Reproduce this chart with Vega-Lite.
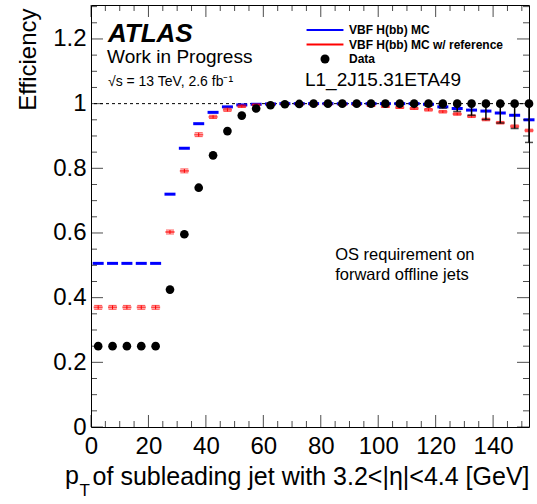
{
  "$schema": "https://vega.github.io/schema/vega-lite/v6.json",
  "width": 438,
  "height": 422,
  "autosize": {"type": "none"},
  "padding": {"left": 91, "top": 5, "right": 8, "bottom": 77},
  "background": "white",
  "config": {
    "view": {"stroke": "black", "strokeWidth": 1},
    "font": "Liberation Sans",
    "axis": {"grid": false, "domain": false}
  },
  "data": {"values": [
    {"series": "Data", "pt": 2.5, "eff": 0.25, "lo": 0.25, "hi": 0.25},
    {"series": "Data", "pt": 7.5, "eff": 0.25, "lo": 0.25, "hi": 0.25},
    {"series": "Data", "pt": 12.5, "eff": 0.25, "lo": 0.25, "hi": 0.25},
    {"series": "Data", "pt": 17.5, "eff": 0.25, "lo": 0.25, "hi": 0.25},
    {"series": "Data", "pt": 22.5, "eff": 0.25, "lo": 0.25, "hi": 0.25},
    {"series": "Data", "pt": 27.5, "eff": 0.425, "lo": 0.425, "hi": 0.425},
    {"series": "Data", "pt": 32.5, "eff": 0.596, "lo": 0.596, "hi": 0.596},
    {"series": "Data", "pt": 37.5, "eff": 0.74, "lo": 0.74, "hi": 0.74},
    {"series": "Data", "pt": 42.5, "eff": 0.84, "lo": 0.84, "hi": 0.84},
    {"series": "Data", "pt": 47.5, "eff": 0.915, "lo": 0.915, "hi": 0.915},
    {"series": "Data", "pt": 52.5, "eff": 0.963, "lo": 0.963, "hi": 0.963},
    {"series": "Data", "pt": 57.5, "eff": 0.985, "lo": 0.985, "hi": 0.985},
    {"series": "Data", "pt": 62.5, "eff": 0.995, "lo": 0.995, "hi": 0.995},
    {"series": "Data", "pt": 67.5, "eff": 0.998, "lo": 0.998, "hi": 0.998},
    {"series": "Data", "pt": 72.5, "eff": 0.999, "lo": 0.999, "hi": 0.999},
    {"series": "Data", "pt": 77.5, "eff": 1, "lo": 1, "hi": 1},
    {"series": "Data", "pt": 82.5, "eff": 1, "lo": 1, "hi": 1},
    {"series": "Data", "pt": 87.5, "eff": 1, "lo": 1, "hi": 1},
    {"series": "Data", "pt": 92.5, "eff": 1, "lo": 1, "hi": 1},
    {"series": "Data", "pt": 97.5, "eff": 1, "lo": 1, "hi": 1},
    {"series": "Data", "pt": 102.5, "eff": 1, "lo": 1, "hi": 1},
    {"series": "Data", "pt": 107.5, "eff": 1, "lo": 1, "hi": 1},
    {"series": "Data", "pt": 112.5, "eff": 1, "lo": 0.997, "hi": 1},
    {"series": "Data", "pt": 117.5, "eff": 1, "lo": 0.993, "hi": 1},
    {"series": "Data", "pt": 122.5, "eff": 1, "lo": 0.986, "hi": 1},
    {"series": "Data", "pt": 127.5, "eff": 1, "lo": 0.976, "hi": 1},
    {"series": "Data", "pt": 132.5, "eff": 1, "lo": 0.964, "hi": 1},
    {"series": "Data", "pt": 137.5, "eff": 1, "lo": 0.951, "hi": 1},
    {"series": "Data", "pt": 142.5, "eff": 1, "lo": 0.94, "hi": 1},
    {"series": "Data", "pt": 147.5, "eff": 1, "lo": 0.923, "hi": 1},
    {"series": "Data", "pt": 152.5, "eff": 1, "lo": 0.88, "hi": 1},

    {"series": "VBF H(bb) MC", "pt": 2.5, "eff": 0.506},
    {"series": "VBF H(bb) MC", "pt": 7.5, "eff": 0.506},
    {"series": "VBF H(bb) MC", "pt": 12.5, "eff": 0.506},
    {"series": "VBF H(bb) MC", "pt": 17.5, "eff": 0.506},
    {"series": "VBF H(bb) MC", "pt": 22.5, "eff": 0.506},
    {"series": "VBF H(bb) MC", "pt": 27.5, "eff": 0.72},
    {"series": "VBF H(bb) MC", "pt": 32.5, "eff": 0.862},
    {"series": "VBF H(bb) MC", "pt": 37.5, "eff": 0.938},
    {"series": "VBF H(bb) MC", "pt": 42.5, "eff": 0.973},
    {"series": "VBF H(bb) MC", "pt": 47.5, "eff": 0.99},
    {"series": "VBF H(bb) MC", "pt": 52.5, "eff": 0.996},
    {"series": "VBF H(bb) MC", "pt": 57.5, "eff": 0.998},
    {"series": "VBF H(bb) MC", "pt": 62.5, "eff": 0.999},
    {"series": "VBF H(bb) MC", "pt": 67.5, "eff": 1},
    {"series": "VBF H(bb) MC", "pt": 72.5, "eff": 1},
    {"series": "VBF H(bb) MC", "pt": 77.5, "eff": 1},
    {"series": "VBF H(bb) MC", "pt": 82.5, "eff": 1},
    {"series": "VBF H(bb) MC", "pt": 87.5, "eff": 1},
    {"series": "VBF H(bb) MC", "pt": 92.5, "eff": 1},
    {"series": "VBF H(bb) MC", "pt": 97.5, "eff": 1},
    {"series": "VBF H(bb) MC", "pt": 102.5, "eff": 1},
    {"series": "VBF H(bb) MC", "pt": 107.5, "eff": 1},
    {"series": "VBF H(bb) MC", "pt": 112.5, "eff": 1},
    {"series": "VBF H(bb) MC", "pt": 117.5, "eff": 0.998},
    {"series": "VBF H(bb) MC", "pt": 122.5, "eff": 0.99},
    {"series": "VBF H(bb) MC", "pt": 127.5, "eff": 0.985},
    {"series": "VBF H(bb) MC", "pt": 132.5, "eff": 0.98},
    {"series": "VBF H(bb) MC", "pt": 137.5, "eff": 0.977},
    {"series": "VBF H(bb) MC", "pt": 142.5, "eff": 0.971},
    {"series": "VBF H(bb) MC", "pt": 147.5, "eff": 0.964},
    {"series": "VBF H(bb) MC", "pt": 152.5, "eff": 0.95},

    {"series": "VBF H(bb) MC w/ reference", "pt": 2.5, "eff": 0.37, "lo": 0.364, "hi": 0.376},
    {"series": "VBF H(bb) MC w/ reference", "pt": 7.5, "eff": 0.37, "lo": 0.364, "hi": 0.376},
    {"series": "VBF H(bb) MC w/ reference", "pt": 12.5, "eff": 0.37, "lo": 0.364, "hi": 0.376},
    {"series": "VBF H(bb) MC w/ reference", "pt": 17.5, "eff": 0.37, "lo": 0.364, "hi": 0.376},
    {"series": "VBF H(bb) MC w/ reference", "pt": 22.5, "eff": 0.37, "lo": 0.364, "hi": 0.376},
    {"series": "VBF H(bb) MC w/ reference", "pt": 27.5, "eff": 0.603, "lo": 0.597, "hi": 0.609},
    {"series": "VBF H(bb) MC w/ reference", "pt": 32.5, "eff": 0.792, "lo": 0.786, "hi": 0.798},
    {"series": "VBF H(bb) MC w/ reference", "pt": 37.5, "eff": 0.904, "lo": 0.898, "hi": 0.91},
    {"series": "VBF H(bb) MC w/ reference", "pt": 42.5, "eff": 0.959, "lo": 0.954, "hi": 0.964},
    {"series": "VBF H(bb) MC w/ reference", "pt": 47.5, "eff": 0.981, "lo": 0.976, "hi": 0.986},
    {"series": "VBF H(bb) MC w/ reference", "pt": 52.5, "eff": 0.992, "lo": 0.988, "hi": 0.996},
    {"series": "VBF H(bb) MC w/ reference", "pt": 57.5, "eff": 0.996, "lo": 0.993, "hi": 0.999},
    {"series": "VBF H(bb) MC w/ reference", "pt": 62.5, "eff": 0.998, "lo": 0.996, "hi": 1},
    {"series": "VBF H(bb) MC w/ reference", "pt": 67.5, "eff": 0.998, "lo": 0.996, "hi": 1},
    {"series": "VBF H(bb) MC w/ reference", "pt": 72.5, "eff": 0.998, "lo": 0.996, "hi": 1},
    {"series": "VBF H(bb) MC w/ reference", "pt": 77.5, "eff": 0.998, "lo": 0.996, "hi": 1},
    {"series": "VBF H(bb) MC w/ reference", "pt": 82.5, "eff": 0.998, "lo": 0.996, "hi": 1},
    {"series": "VBF H(bb) MC w/ reference", "pt": 87.5, "eff": 0.997, "lo": 0.995, "hi": 0.999},
    {"series": "VBF H(bb) MC w/ reference", "pt": 92.5, "eff": 0.996, "lo": 0.994, "hi": 0.998},
    {"series": "VBF H(bb) MC w/ reference", "pt": 97.5, "eff": 0.994, "lo": 0.991, "hi": 0.997},
    {"series": "VBF H(bb) MC w/ reference", "pt": 102.5, "eff": 0.991, "lo": 0.988, "hi": 0.994},
    {"series": "VBF H(bb) MC w/ reference", "pt": 107.5, "eff": 0.988, "lo": 0.985, "hi": 0.991},
    {"series": "VBF H(bb) MC w/ reference", "pt": 112.5, "eff": 0.985, "lo": 0.982, "hi": 0.988},
    {"series": "VBF H(bb) MC w/ reference", "pt": 117.5, "eff": 0.981, "lo": 0.977, "hi": 0.985},
    {"series": "VBF H(bb) MC w/ reference", "pt": 122.5, "eff": 0.975, "lo": 0.971, "hi": 0.979},
    {"series": "VBF H(bb) MC w/ reference", "pt": 127.5, "eff": 0.968, "lo": 0.964, "hi": 0.972},
    {"series": "VBF H(bb) MC w/ reference", "pt": 132.5, "eff": 0.961, "lo": 0.957, "hi": 0.965},
    {"series": "VBF H(bb) MC w/ reference", "pt": 137.5, "eff": 0.951, "lo": 0.947, "hi": 0.955},
    {"series": "VBF H(bb) MC w/ reference", "pt": 142.5, "eff": 0.941, "lo": 0.937, "hi": 0.945},
    {"series": "VBF H(bb) MC w/ reference", "pt": 147.5, "eff": 0.93, "lo": 0.926, "hi": 0.934},
    {"series": "VBF H(bb) MC w/ reference", "pt": 152.5, "eff": 0.917, "lo": 0.913, "hi": 0.921}
  ]},
  "resolve": {"axis": {"x": "independent", "y": "independent"}},
  "layer": [
    {
      "data": {"values": [{}]},
      "mark": {"type": "rule", "strokeDash": [3, 3], "color": "black", "strokeWidth": 1},
      "encoding": {
        "y": {"datum": 1, "type": "quantitative", "scale": {"domain": [0, 1.305], "nice": false, "zero": false}, "axis": null}
      }
    },
    {
      "transform": [{"filter": "datum.series === 'VBF H(bb) MC'"}],
      "mark": {"type": "tick", "orient": "horizontal", "color": "#0000ff", "size": 11, "thickness": 3, "opacity": 1},
      "encoding": {
        "x": {"field": "pt", "type": "quantitative", "scale": {"domain": [0, 152.5], "nice": false, "zero": false},
          "axis": {"orient": "bottom", "values": [0, 20, 40, 60, 80, 100, 120, 140], "ticks": false, "domain": false, "grid": false,
            "labelFont": "Liberation Sans", "labelFontSize": 24, "labelColor": "black", "labelPadding": 7, "labelFlush": false, "labelOverlap": false, "labelBaseline": "top",
            "title": "of subleading jet with 3.2<|η|<4.4 [GeV]", "titleFont": "Liberation Sans", "titleFontSize": 25, "titleFontWeight": "normal", "titleColor": "black",
            "titleAlign": "right", "titleAnchor": "end", "titleBaseline": "alphabetic", "titleX": 438, "titleY": 57}},
        "y": {"field": "eff", "type": "quantitative", "scale": {"domain": [0, 1.305], "nice": false, "zero": false},
          "axis": {"orient": "left", "values": [0, 0.2, 0.4, 0.6, 0.8, 1, 1.2], "format": "~g", "ticks": false, "domain": false, "grid": false,
            "labelFont": "Liberation Sans", "labelFontSize": 24, "labelColor": "black", "labelPadding": 5, "labelFlush": false, "labelOverlap": false,
            "title": "Efficiency", "titleFont": "Liberation Sans", "titleFontSize": 24, "titleFontWeight": "normal", "titleColor": "black",
            "titleAngle": -90, "titleAlign": "right", "titleAnchor": "end", "titleBaseline": "alphabetic", "titleX": -56, "titleY": 3}}
      }
    },
    {
      "data": {"values": [{"v": 0}, {"v": 20}, {"v": 40}, {"v": 60}, {"v": 80}, {"v": 100}, {"v": 120}, {"v": 140}]},
      "mark": {"type": "tick", "orient": "vertical", "color": "black", "size": 12, "thickness": 1, "yOffset": -6},
      "encoding": {
        "x": {"field": "v", "type": "quantitative", "axis": null},
        "y": {"datum": 0, "type": "quantitative", "axis": null}
      }
    },
    {
      "data": {"values": [{"v": 5}, {"v": 10}, {"v": 15}, {"v": 25}, {"v": 30}, {"v": 35}, {"v": 45}, {"v": 50}, {"v": 55}, {"v": 65}, {"v": 70}, {"v": 75}, {"v": 85}, {"v": 90}, {"v": 95}, {"v": 105}, {"v": 110}, {"v": 115}, {"v": 125}, {"v": 130}, {"v": 135}, {"v": 145}, {"v": 150}]},
      "mark": {"type": "tick", "orient": "vertical", "color": "black", "size": 6, "thickness": 1, "yOffset": -3},
      "encoding": {
        "x": {"field": "v", "type": "quantitative", "axis": null},
        "y": {"datum": 0, "type": "quantitative", "axis": null}
      }
    },
    {
      "data": {"values": [{"v": 0}, {"v": 20}, {"v": 40}, {"v": 60}, {"v": 80}, {"v": 100}, {"v": 120}, {"v": 140}]},
      "mark": {"type": "tick", "orient": "vertical", "color": "black", "size": 12, "thickness": 1, "yOffset": 6},
      "encoding": {
        "x": {"field": "v", "type": "quantitative", "axis": null},
        "y": {"datum": 1.305, "type": "quantitative", "axis": null}
      }
    },
    {
      "data": {"values": [{"v": 5}, {"v": 10}, {"v": 15}, {"v": 25}, {"v": 30}, {"v": 35}, {"v": 45}, {"v": 50}, {"v": 55}, {"v": 65}, {"v": 70}, {"v": 75}, {"v": 85}, {"v": 90}, {"v": 95}, {"v": 105}, {"v": 110}, {"v": 115}, {"v": 125}, {"v": 130}, {"v": 135}, {"v": 145}, {"v": 150}]},
      "mark": {"type": "tick", "orient": "vertical", "color": "black", "size": 6, "thickness": 1, "yOffset": 3},
      "encoding": {
        "x": {"field": "v", "type": "quantitative", "axis": null},
        "y": {"datum": 1.305, "type": "quantitative", "axis": null}
      }
    },
    {
      "data": {"values": [{"v": 0}, {"v": 0.2}, {"v": 0.4}, {"v": 0.6}, {"v": 0.8}, {"v": 1}, {"v": 1.2}]},
      "mark": {"type": "tick", "orient": "horizontal", "color": "black", "size": 12, "thickness": 1, "xOffset": 6},
      "encoding": {
        "y": {"field": "v", "type": "quantitative", "axis": null},
        "x": {"datum": 0, "type": "quantitative", "axis": null}
      }
    },
    {
      "data": {"values": [{"v": 0.05}, {"v": 0.1}, {"v": 0.15}, {"v": 0.25}, {"v": 0.3}, {"v": 0.35}, {"v": 0.45}, {"v": 0.5}, {"v": 0.55}, {"v": 0.65}, {"v": 0.7}, {"v": 0.75}, {"v": 0.85}, {"v": 0.9}, {"v": 0.95}, {"v": 1.05}, {"v": 1.1}, {"v": 1.15}, {"v": 1.25}, {"v": 1.3}]},
      "mark": {"type": "tick", "orient": "horizontal", "color": "black", "size": 6, "thickness": 1, "xOffset": 3},
      "encoding": {
        "y": {"field": "v", "type": "quantitative", "axis": null},
        "x": {"datum": 0, "type": "quantitative", "axis": null}
      }
    },
    {
      "data": {"values": [{"v": 0}, {"v": 0.2}, {"v": 0.4}, {"v": 0.6}, {"v": 0.8}, {"v": 1}, {"v": 1.2}]},
      "mark": {"type": "tick", "orient": "horizontal", "color": "black", "size": 12, "thickness": 1, "xOffset": -6},
      "encoding": {
        "y": {"field": "v", "type": "quantitative", "axis": null},
        "x": {"datum": 152.5, "type": "quantitative", "axis": null}
      }
    },
    {
      "data": {"values": [{"v": 0.05}, {"v": 0.1}, {"v": 0.15}, {"v": 0.25}, {"v": 0.3}, {"v": 0.35}, {"v": 0.45}, {"v": 0.5}, {"v": 0.55}, {"v": 0.65}, {"v": 0.7}, {"v": 0.75}, {"v": 0.85}, {"v": 0.9}, {"v": 0.95}, {"v": 1.05}, {"v": 1.1}, {"v": 1.15}, {"v": 1.25}, {"v": 1.3}]},
      "mark": {"type": "tick", "orient": "horizontal", "color": "black", "size": 6, "thickness": 1, "xOffset": -3},
      "encoding": {
        "y": {"field": "v", "type": "quantitative", "axis": null},
        "x": {"datum": 152.5, "type": "quantitative", "axis": null}
      }
    },
    {
      "transform": [{"filter": "datum.series === 'VBF H(bb) MC w/ reference'"}],
      "mark": {"type": "rule", "color": "#ff0000", "strokeWidth": 1},
      "encoding": {
        "x": {"field": "pt", "type": "quantitative", "axis": null},
        "y": {"field": "lo", "type": "quantitative", "axis": null},
        "y2": {"field": "hi"}
      }
    },
    {
      "transform": [{"filter": "datum.series === 'VBF H(bb) MC w/ reference'"}],
      "mark": {"type": "tick", "orient": "horizontal", "color": "#ff0000", "size": 8, "thickness": 1},
      "encoding": {
        "x": {"field": "pt", "type": "quantitative", "axis": null},
        "y": {"field": "lo", "type": "quantitative", "axis": null}
      }
    },
    {
      "transform": [{"filter": "datum.series === 'VBF H(bb) MC w/ reference'"}],
      "mark": {"type": "tick", "orient": "horizontal", "color": "#ff0000", "size": 8, "thickness": 1},
      "encoding": {
        "x": {"field": "pt", "type": "quantitative", "axis": null},
        "y": {"field": "hi", "type": "quantitative", "axis": null}
      }
    },
    {
      "transform": [{"filter": "datum.series === 'VBF H(bb) MC w/ reference'"}],
      "mark": {"type": "tick", "orient": "horizontal", "color": "#ff0000", "size": 9, "thickness": 2},
      "encoding": {
        "x": {"field": "pt", "type": "quantitative", "axis": null},
        "y": {"field": "eff", "type": "quantitative", "axis": null}
      }
    },
    {
      "transform": [{"filter": "datum.series === 'Data' && datum.lo < datum.eff"}],
      "mark": {"type": "rule", "color": "black", "strokeWidth": 1.5},
      "encoding": {
        "x": {"field": "pt", "type": "quantitative", "axis": null},
        "y": {"field": "lo", "type": "quantitative", "axis": null},
        "y2": {"field": "hi"}
      }
    },
    {
      "transform": [{"filter": "datum.series === 'Data' && datum.lo < datum.eff"}],
      "mark": {"type": "tick", "orient": "horizontal", "color": "black", "size": 8, "thickness": 1.5},
      "encoding": {
        "x": {"field": "pt", "type": "quantitative", "axis": null},
        "y": {"field": "lo", "type": "quantitative", "axis": null}
      }
    },
    {
      "transform": [{"filter": "datum.series === 'Data'"}],
      "mark": {"type": "point", "filled": true, "size": 75, "opacity": 1},
      "encoding": {
        "x": {"field": "pt", "type": "quantitative", "axis": null},
        "y": {"field": "eff", "type": "quantitative", "axis": null},
        "color": {"field": "series", "type": "nominal",
          "scale": {"domain": ["VBF H(bb) MC", "VBF H(bb) MC w/ reference", "Data"], "range": ["#0000ff", "#ff0000", "#000000"]},
          "legend": {"title": null, "orient": "none", "legendX": 228, "legendY": 19, "padding": 0, "symbolSize": 81,
            "labelFont": "Liberation Sans", "labelFontSize": 12, "labelFontWeight": "bold", "labelColor": "black", "labelOffset": 18, "rowPadding": 2.5}},
        "shape": {"field": "series", "type": "nominal",
          "scale": {"domain": ["VBF H(bb) MC", "VBF H(bb) MC w/ reference", "Data"], "range": ["M-4.1,-0.22H4.1V0.22H-4.1Z", "M-4.1,-0.22H4.1V0.22H-4.1Z", "circle"]},
          "legend": {"title": null, "orient": "none", "legendX": 228, "legendY": 19, "padding": 0, "symbolSize": 81,
            "labelFont": "Liberation Sans", "labelFontSize": 12, "labelFontWeight": "bold", "labelColor": "black", "labelOffset": 18, "rowPadding": 2.5}}
      }
    },
    {
      "data": {"values": [{}]},
      "mark": {"type": "text", "text": "ATLAS", "font": "Liberation Sans", "fontSize": 26, "fontWeight": "bold", "fontStyle": "italic", "align": "left", "baseline": "alphabetic", "color": "black"},
      "encoding": {"x": {"datum": 5.9, "type": "quantitative", "axis": null}, "y": {"datum": 1.191, "type": "quantitative", "axis": null}}
    },
    {
      "data": {"values": [{}]},
      "mark": {"type": "text", "text": "Work in Progress", "font": "Liberation Sans", "fontSize": 19, "align": "left", "baseline": "alphabetic", "color": "black"},
      "encoding": {"x": {"datum": 5.6, "type": "quantitative", "axis": null}, "y": {"datum": 1.125, "type": "quantitative", "axis": null}}
    },
    {
      "data": {"values": [{}]},
      "mark": {"type": "text", "text": "√s = 13 TeV, 2.6 fb⁻¹", "font": "Liberation Sans", "fontSize": 14, "align": "left", "baseline": "alphabetic", "color": "black"},
      "encoding": {"x": {"datum": 5.9, "type": "quantitative", "axis": null}, "y": {"datum": 1.054, "type": "quantitative", "axis": null}}
    },
    {
      "data": {"values": [{}]},
      "mark": {"type": "text", "text": "L1_2J15.31ETA49", "font": "Liberation Sans", "fontSize": 19, "align": "left", "baseline": "alphabetic", "color": "black"},
      "encoding": {"x": {"datum": 74.5, "type": "quantitative", "axis": null}, "y": {"datum": 1.054, "type": "quantitative", "axis": null}}
    },
    {
      "data": {"values": [{}]},
      "mark": {"type": "text", "text": "OS requirement on", "font": "Liberation Sans", "fontSize": 16.5, "align": "left", "baseline": "alphabetic", "color": "black"},
      "encoding": {"x": {"datum": 85, "type": "quantitative", "axis": null}, "y": {"datum": 0.516, "type": "quantitative", "axis": null}}
    },
    {
      "data": {"values": [{}]},
      "mark": {"type": "text", "text": "forward offline jets", "font": "Liberation Sans", "fontSize": 16.5, "align": "left", "baseline": "alphabetic", "color": "black"},
      "encoding": {"x": {"datum": 85, "type": "quantitative", "axis": null}, "y": {"datum": 0.4545, "type": "quantitative", "axis": null}}
    },
    {
      "data": {"values": [{}]},
      "mark": {"type": "text", "text": "p", "font": "Liberation Sans", "fontSize": 25, "align": "left", "baseline": "alphabetic", "color": "black"},
      "encoding": {"x": {"datum": -9.05, "type": "quantitative", "axis": null}, "y": {"datum": -0.1763, "type": "quantitative", "axis": null}}
    },
    {
      "data": {"values": [{}]},
      "mark": {"type": "text", "text": "T", "font": "Liberation Sans", "fontSize": 17, "align": "left", "baseline": "alphabetic", "color": "black"},
      "encoding": {"x": {"datum": -4.0, "type": "quantitative", "axis": null}, "y": {"datum": -0.213, "type": "quantitative", "axis": null}}
    }
  ]
}
